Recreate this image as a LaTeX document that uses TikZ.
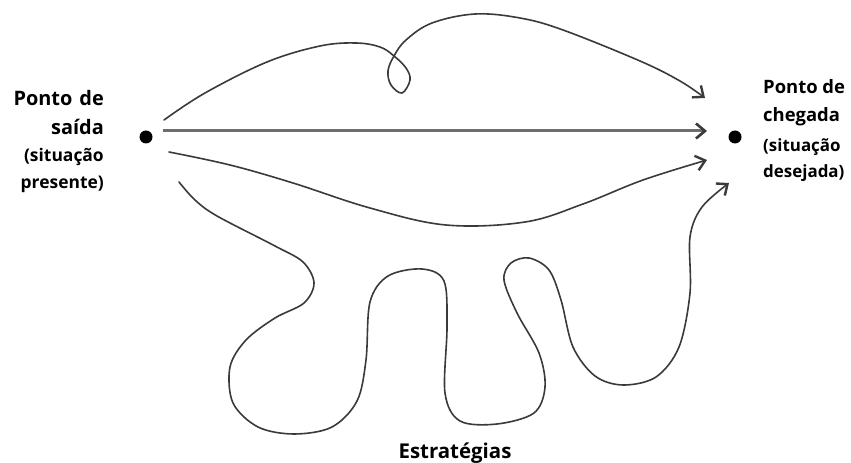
\documentclass[tikz,border=0pt]{standalone}
\usepackage{fontspec}
\setmainfont{Open Sans}
\usetikzlibrary{arrows.meta}
\definecolor{curve}{HTML}{3A3A3A}
\definecolor{axis}{HTML}{6E6E6E}
\tikzset{
  dot/.style={circle,fill=black,inner sep=0pt,minimum size=13bp},
  big/.style={font=\fontsize{20}{22}\selectfont\bfseries,inner sep=0pt},
  small/.style={font=\fontsize{17.5}{20}\selectfont\bfseries,inner sep=0pt},
  rbig/.style={font=\fontsize{18.5}{22}\selectfont\bfseries,inner sep=0pt},
  rsmall/.style={font=\fontsize{17}{20}\selectfont\bfseries,inner sep=0pt},
  path line/.style={draw=curve,line width=1.6bp,line cap=round,
    -{Straight Barb[length=9bp,width=15bp,line width=2.4bp]}},
  main line/.style={draw=axis,line width=3bp,
    -{Straight Barb[length=9bp,width=15bp,line width=2.6bp,color=curve]}}
}
\begin{document}
\begin{tikzpicture}[x=1bp,y=-1bp]
\useasboundingbox (0,0) rectangle (851,463);
% dots
\node[dot] (start) at (146,137) {};
\node[dot] (goal) at (735,137) {};
% left labels
\node[big,anchor=base east] (l1) at (104,106) {Ponto\hspace{0.35em}de};
\node[big,anchor=base east] (l2) at (104,135) {saída};
\node[small,anchor=base east] (l3) at (104,162) {(situação};
\node[small,anchor=base east] (l4) at (104,189) {presente)};
% right labels
\node[rbig,anchor=base west] (r1) at (763,94) {Ponto de};
\node[rbig,anchor=base west] (r2) at (763,122) {chegada};
\node[rsmall,anchor=base west] (r3) at (763,152) {(situação};
\node[rsmall,anchor=base west] (r4) at (763,178) {desejada)};
% bottom label
\node[big,font=\fontsize{20.5}{22}\selectfont\bfseries,anchor=base] (strat) at (455,458) {Estratégias};
% connector end points
\coordinate (s1) at (164,120);
\coordinate (e1) at (705,98);
\coordinate (s2) at (163,131);
\coordinate (e2) at (707,131);
\coordinate (s3) at (169,152);
\coordinate (e3) at (707,160);
\coordinate (s4) at (179,182);
\coordinate (e4) at (729,183);
% straight
\draw[main line] (s2) -- (e2);
% top curve with loop
\draw[path line] plot[smooth,tension=0.6] coordinates {
  (s1) (205,93) (267,62) (320,46) (356,43) (380,47) (394,56) (406,68) (410,80)
  (402,93) (391,85) (388,71) (394,56) (406,40) (432,23) (475,14) (520,18)
  (563,30) (640,61) (680,81) (e1)};
% lower smooth curve
\draw[path line] plot[smooth,tension=0.6] coordinates {
  (s3) (230,165) (293,183) (370,208) (446,225) (525,222) (583,204) (643,180) (e3)};
% wiggly strategy
\draw[path line] plot[smooth,tension=0.55] coordinates {
  (s4) (195,200) (217,216) (275,246) (303,262) (314,283) (304,303) (275,318)
  (246,340) (230,367) (233,403) (258,427) (294,434) (332,427) (357,401)
  (366,360) (370,302) (388,276) (422,269) (444,281) (447,327) (445,393)
  (460,421) (497,424) (534,413) (545,387) (539,353) (517,313) (504,280)
  (511,263) (529,258) (549,270) (561,300) (573,347) (595,376) (623,385)
  (656,377) (679,347) (690,293) (690,237) (702,207) (e4)};
\end{tikzpicture}
\end{document}
